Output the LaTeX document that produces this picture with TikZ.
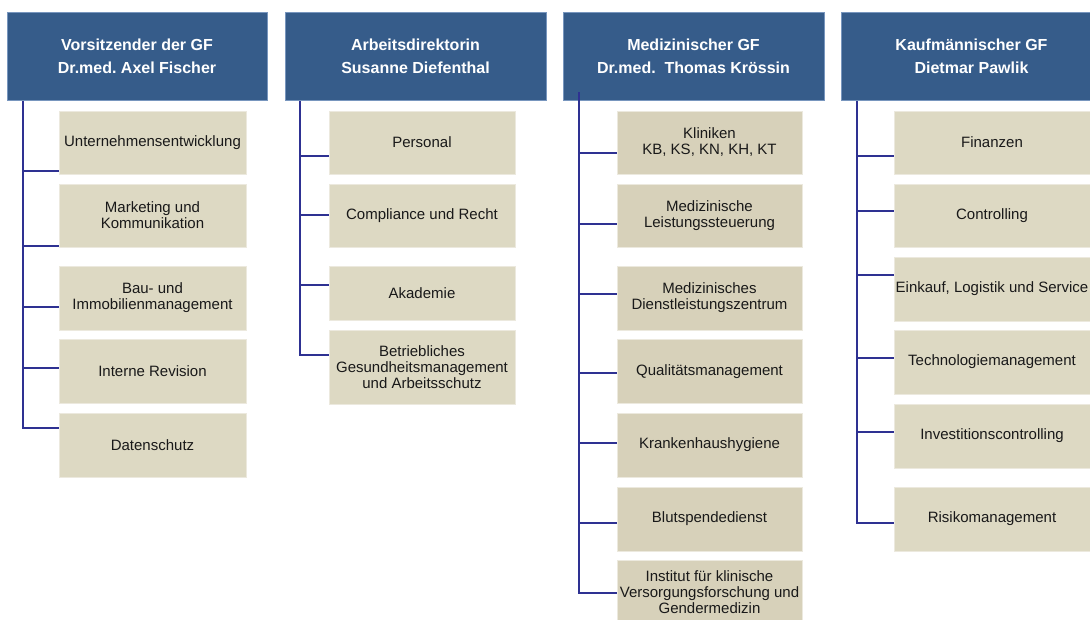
\documentclass[tikz,border=0pt]{standalone}
\usepackage{fontspec}
\setmainfont{Liberation Sans}
\frenchspacing
\definecolor{headblue}{RGB}{54,92,138}
\definecolor{headedge}{RGB}{120,150,190}
\definecolor{unitfill}{RGB}{221,217,195}
\definecolor{unitfillmed}{RGB}{215,209,186}
\definecolor{unitedge}{RGB}{236,233,222}
\definecolor{unittext}{RGB}{25,25,25}
\definecolor{linkblue}{RGB}{46,49,146}

\begin{document}
\begin{tikzpicture}[x=1pt, y=-1pt,
    head/.style={draw=headedge, line width=0.6pt, fill=headblue, text=white,
        font=\fontsize{16}{23.4}\selectfont\bfseries, align=center,
        minimum width=261pt, minimum height=88pt, inner sep=0pt},
    unit/.style={draw=unitedge, line width=0.6pt, fill=unitfill, text=unittext,
        font=\fontsize{15}{16}\selectfont, align=center,
        minimum width=187pt, minimum height=64pt, inner sep=0pt},
    medunit/.style={unit, minimum width=185pt, fill=unitfillmed},
    wideunit/.style={unit, minimum width=196pt},
    link/.style={draw=linkblue, line width=2pt}]
    \useasboundingbox (0,0) rectangle (1090,619);
    \clip (0,0) rectangle (1090,619);

    % Draw the heads
    \node[head, minimum width=260pt] (hA) at (137,56) {Vorsitzender der GF\\Dr.med. Axel Fischer};
    \node[head] (hB) at (415.5,56) {Arbeitsdirektorin\\Susanne Diefenthal};
    \node[head] (hC) at (693.5,56) {Medizinischer GF\\Dr.med.\ \ Thomas Krössin};
    \node[head] (hD) at (971.5,56) {Kaufmännischer GF\\Dietmar Pawlik};

    % Draw the units of the first column
    \node[unit, minimum height=63pt] (a1) at (152.5,142.5) {Unternehmensentwicklung};
    \node[unit, minimum height=63pt] (a2) at (152.5,215.5) {Marketing und\\Kommunikation};
    \node[unit] (a3) at (152.5,298) {Bau- und\\Immobilienmanagement};
    \node[unit] (a4) at (152.5,371.5) {Interne Revision};
    \node[unit] (a5) at (152.5,445) {Datenschutz};

    % Draw the units of the second column
    \node[unit, minimum width=186pt, minimum height=63pt] (b1) at (422,142.5) {Personal};
    \node[unit, minimum width=186pt, minimum height=63pt] (b2) at (422,215.5) {Compliance und Recht};
    \node[unit, minimum width=186pt, minimum height=54pt] (b3) at (422,293) {Akademie};
    \node[unit, minimum width=186pt, minimum height=74pt] (b4) at (422,367) {Betriebliches\\Gesundheitsmanagement\\und Arbeitsschutz};

    % Draw the units of the third column
    \node[medunit, minimum height=63pt] (c1) at (709.5,142.5) {Kliniken\\KB, KS, KN, KH, KT};
    \node[medunit, minimum height=63pt] (c2) at (709.5,215.5) {Medizinische\\Leistungssteuerung};
    \node[medunit] (c3) at (709.5,298) {Medizinisches\\Dienstleistungszentrum};
    \node[medunit] (c4) at (709.5,371.5) {Qualitätsmanagement};
    \node[medunit] (c5) at (709.5,445) {Krankenhaushygiene};
    \node[medunit] (c6) at (709.5,519) {Blutspendedienst};
    \node[medunit] (c7) at (709.5,592) {Institut für klinische\\Versorgungsforschung und\\Gendermedizin};

    % Draw the units of the fourth column
    \node[wideunit, minimum height=63pt] (d1) at (992,142.5) {Finanzen};
    \node[wideunit, minimum height=63pt] (d2) at (992,215.5) {Controlling};
    \node[wideunit] (d3) at (992,289) {Einkauf, Logistik und Service};
    \node[wideunit] (d4) at (992,362) {Technologiemanagement};
    \node[wideunit] (d5) at (992,436) {Investitionscontrolling};
    \node[wideunit] (d6) at (992,519) {Risikomanagement};

    % Draw the trunks and branches
    \coordinate (tA) at (23,101);
    \coordinate (tB) at (300,101);
    \coordinate (tC) at (579,92);
    \coordinate (tD) at (857,101);
    \draw[link] (tA) |- (a5.west |- 0,428);
    \foreach \u/\y in {a1/171,a2/246,a3/307,a4/368}
        \draw[link] (tA |- 0,\y) -- (\u.west |- 0,\y);
    \draw[link] (tB) |- (b4.west |- 0,355);
    \foreach \u/\y in {b1/156,b2/215,b3/285}
        \draw[link] (tB |- 0,\y) -- (\u.west |- 0,\y);
    \draw[link] (tC) |- (c7.west |- 0,593);
    \foreach \u/\y in {c1/153,c2/224,c3/294,c4/373,c5/443,c6/523}
        \draw[link] (tC |- 0,\y) -- (\u.west |- 0,\y);
    \draw[link] (tD) |- (d6.west |- 0,523);
    \foreach \u/\y in {d1/156,d2/211,d3/275,d4/358,d5/432}
        \draw[link] (tD |- 0,\y) -- (\u.west |- 0,\y);
\end{tikzpicture}
\end{document}
